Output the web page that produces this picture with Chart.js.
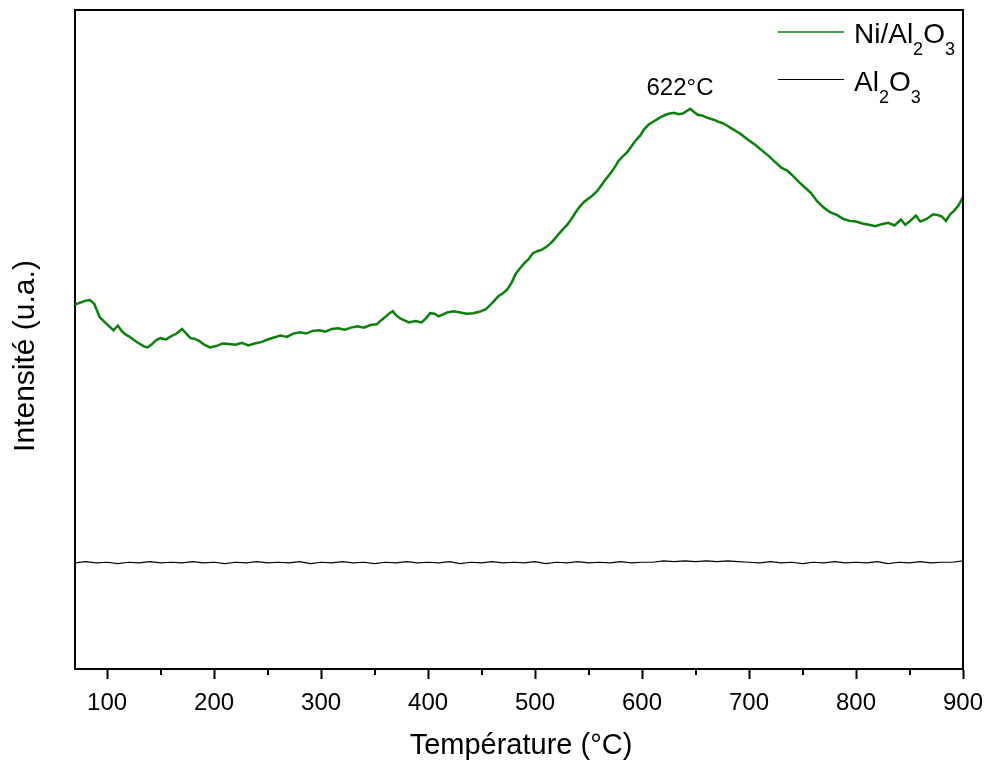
<!DOCTYPE html>
<html>
<head>
<meta charset="utf-8">
<script src="https://cdn.jsdelivr.net/npm/chart.js@4/dist/chart.umd.min.js"></script>
<style>
html,body{margin:0;padding:0;background:#fff;}
canvas{display:block;}
</style>
</head>
<body>
<canvas id="c" width="986" height="761"></canvas>
<script>
// Temperature (°C) for Ni/Al2O3 trace
const niTemps = [70,75,80,84,88,93,98,102,106,110,114,118,122,126,130,134,138,142,146,150,155,160,165,170,174,178,182,186,190,196,202,208,214,220,226,232,238,244,250,256,262,268,274,280,286,292,298,304,310,316,322,328,334,340,346,352,356,360,364,367,370,374,378,382,388,394,398,402,406,410,414,418,424,430,436,442,448,454,458,462,466,470,474,478,482,486,490,494,498,502,506,510,514,518,522,526,530,534,538,542,546,550,554,558,562,566,570,574,578,582,586,590,594,598,602,606,610,614,618,622,626,630,634,638,642,645,648,652,656,660,664,668,672,676,680,684,688,692,696,700,706,712,718,724,730,736,740,746,752,758,764,770,776,782,788,794,800,806,812,818,824,830,836,842,846,850,856,860,866,872,876,880,884,888,892,896,900];
// Intensity (u.a.) for Ni/Al2O3
const niValues = [55.3,55.6,55.9,56.0,55.4,53.4,52.6,52.0,51.4,52.1,51.2,50.7,50.3,49.8,49.4,49.0,48.8,49.3,49.9,50.2,50.0,50.5,50.9,51.6,50.9,50.2,50.1,49.8,49.3,48.8,49.0,49.4,49.3,49.2,49.5,49.1,49.4,49.6,50.0,50.3,50.6,50.4,50.9,51.1,50.9,51.3,51.4,51.2,51.6,51.7,51.5,51.8,52.0,51.8,52.2,52.3,52.9,53.4,54.0,54.3,53.7,53.2,52.9,52.6,52.8,52.6,53.2,54.0,53.9,53.5,53.8,54.1,54.3,54.1,53.9,54.0,54.2,54.6,55.2,55.9,56.6,57.0,57.6,58.6,60.0,60.8,61.6,62.2,63.1,63.4,63.6,64.0,64.5,65.2,66.0,66.7,67.4,68.3,69.3,70.2,70.9,71.4,71.9,72.5,73.4,74.3,75.1,76.0,77.1,77.8,78.4,79.3,80.2,80.9,81.9,82.6,83.0,83.4,83.8,84.1,84.3,84.4,84.2,84.3,84.7,85.0,84.6,84.1,84.0,83.7,83.5,83.3,83.0,82.8,82.4,82.0,81.6,81.2,80.7,80.2,79.5,78.7,77.9,77.0,76.1,75.6,75.0,74.0,73.1,72.2,70.9,70.0,69.3,68.9,68.3,68.0,67.9,67.6,67.4,67.2,67.5,67.7,67.3,68.2,67.4,67.9,68.8,67.9,68.3,69.0,68.9,68.7,68.0,69.0,69.6,70.4,71.6];
// Temperature (°C) for Al2O3 trace
const alTemps = [70,80,90,100,110,120,130,140,150,160,170,180,190,200,210,220,230,240,250,260,270,280,290,300,310,320,330,340,350,360,370,380,390,400,410,420,430,440,450,460,470,480,490,500,510,520,530,540,550,560,570,580,590,600,610,620,630,640,650,660,670,680,690,700,710,720,730,740,750,760,770,780,790,800,810,820,830,840,850,860,870,880,890,900];
// Intensity (u.a.) for Al2O3
const alValues = [16.1,16.3,16.1,16.2,16.0,16.2,16.1,16.3,16.1,16.2,16.1,16.3,16.1,16.2,16.0,16.2,16.1,16.3,16.1,16.2,16.1,16.3,16.0,16.2,16.1,16.3,16.1,16.2,16.0,16.2,16.1,16.3,16.1,16.2,16.1,16.3,16.0,16.2,16.1,16.3,16.1,16.2,16.1,16.3,16.0,16.2,16.1,16.3,16.1,16.2,16.1,16.3,16.1,16.2,16.2,16.4,16.3,16.4,16.3,16.4,16.3,16.4,16.3,16.2,16.1,16.3,16.1,16.2,16.0,16.2,16.1,16.3,16.1,16.2,16.1,16.3,16.0,16.2,16.1,16.3,16.1,16.2,16.2,16.4];
// Axis ticks
const majorTicks = [100,200,300,400,500,600,700,800,900];
const minorTicks = [150,250,350,450,550,650,750,850];
const xMin = 70, xMax = 900;
const yMin = 0, yMax = 100;
const peakLabel = '622°C';

const FONT = "'Liberation Sans', Arial, sans-serif";
const GREEN = '#0a800a';

const toPts = (xs, ys) => xs.map((x, i) => ({x: x, y: ys[i]}));

const decor = {
  id: 'decor',
  afterDraw(chart) {
    const ctx = chart.ctx;
    const a = chart.chartArea;
    const xs = chart.scales.x;
    ctx.save();
    // frame top & right
    ctx.strokeStyle = '#000';
    ctx.lineWidth = 2;
    ctx.beginPath();
    ctx.moveTo(a.left, a.top);
    ctx.lineTo(a.right, a.top);
    ctx.lineTo(a.right, a.bottom);
    ctx.stroke();
    // minor ticks
    ctx.beginPath();
    minorTicks.forEach(v => {
      const px = Math.round(xs.getPixelForValue(v));
      ctx.moveTo(px, a.bottom);
      ctx.lineTo(px, a.bottom + 6);
    });
    ctx.stroke();
    // y title
    ctx.fillStyle = '#000';
    ctx.font = '30px ' + FONT;
    ctx.textAlign = 'center';
    ctx.textBaseline = 'alphabetic';
    ctx.save();
    ctx.translate(34, 356);
    ctx.rotate(-Math.PI / 2);
    ctx.fillText('Intensité (u.a.)', 0, 0);
    ctx.restore();
    // x title
    ctx.font = '29px ' + FONT;
    ctx.fillText('Température (°C)', 521, 754);
    // peak annotation
    ctx.font = '24px ' + FONT;
    ctx.fillText(peakLabel, 680, 95);
    // legend
    const rows = [
      {color: GREEN, w: 1.5, parts: [['Ni/Al', 0], ['2', 1], ['O', 0], ['3', 1]], y: 32},
      {color: '#000', w: 1, parts: [['Al', 0], ['2', 1], ['O', 0], ['3', 1]], y: 79.5}
    ];
    rows.forEach(r => {
      ctx.strokeStyle = r.color;
      ctx.lineWidth = r.w;
      ctx.beginPath();
      ctx.moveTo(778, r.y);
      ctx.lineTo(844, r.y);
      ctx.stroke();
      let x = 854;
      const base = Math.round(r.y) + 11;
      ctx.textAlign = 'left';
      r.parts.forEach(p => {
        if (p[1]) {
          ctx.font = '18px ' + FONT;
          ctx.fillText(p[0], x, base + 12);
        } else {
          ctx.font = '28px ' + FONT;
          ctx.fillText(p[0], x, base);
        }
        x += ctx.measureText(p[0]).width;
      });
    });
    ctx.restore();
  }
};

new Chart(document.getElementById('c'), {
  type: 'line',
  data: {
    datasets: [
      {label: 'Al2O3', data: toPts(alTemps, alValues), borderColor: '#000', borderWidth: 1.2, pointRadius: 0, tension: 0},
      {label: 'Ni/Al2O3', data: toPts(niTemps, niValues), borderColor: GREEN, borderWidth: 2.5, pointRadius: 0, tension: 0}
    ]
  },
  options: {
    responsive: false,
    animation: false,
    layout: {padding: {top: 10, right: 23, left: 0, bottom: 0}},
    plugins: {legend: {display: false}, tooltip: {enabled: false}},
    scales: {
      x: {
        type: 'linear', min: xMin, max: xMax,
        afterBuildTicks: s => { s.ticks = majorTicks.map(v => ({value: v})); },
        afterFit: s => { s.height = 92; s.paddingRight = 0; s.paddingLeft = 0; },
        ticks: {color: '#000', font: {family: FONT, size: 24}, padding: 10, maxRotation: 0},
        grid: {display: true, drawOnChartArea: false, drawTicks: true, tickLength: 10, tickColor: '#000', tickWidth: 2},
        border: {display: true, color: '#000', width: 2}
      },
      y: {
        type: 'linear', min: yMin, max: yMax,
        afterFit: s => { s.width = 75; },
        ticks: {display: false},
        grid: {display: false},
        border: {display: true, color: '#000', width: 2}
      }
    }
  },
  plugins: [decor]
});
</script>
</body>
</html>
